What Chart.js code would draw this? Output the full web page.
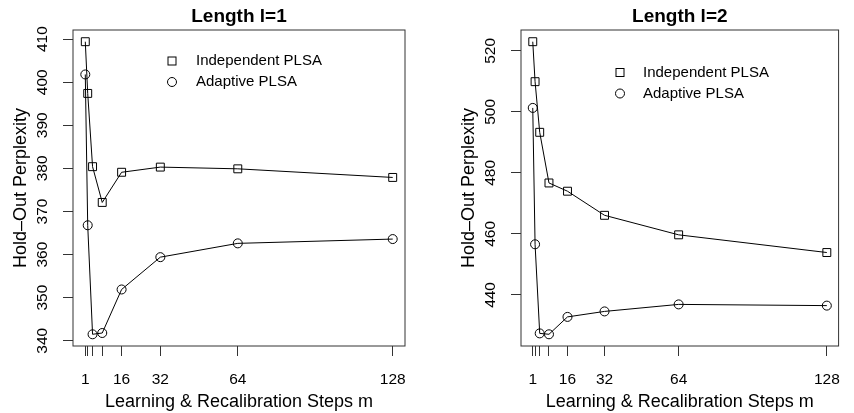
<!DOCTYPE html>
<html>
<head>
<meta charset="utf-8">
<script src="https://cdn.jsdelivr.net/npm/chart.js@4/dist/chart.umd.min.js"></script>
<style>
  html, body { margin: 0; padding: 0; background: #fff; }
  #wrap { position: relative; width: 854px; height: 413px; }
  canvas { position: absolute; top: 0; }
</style>
</head>
<body>
<div id="wrap">
  <canvas id="chart-l1" width="427" height="413" style="left:0"></canvas>
  <canvas id="chart-l2" width="427" height="413" style="left:427px"></canvas>
</div>
<script>
// Learning & recalibration steps m (x values of both panels).
var steps = [1, 2, 4, 8, 16, 32, 64, 128];
var xTicks = [1, 2, 4, 8, 16, 32, 64, 128];
var xLabeled = [1, 16, 32, 64, 128];

// Length l=1
var indepL1 = [409.4, 397.4, 380.4, 372.1, 379.1, 380.3, 379.9, 377.9];
var adaptL1 = [401.8, 366.8, 341.5, 341.8, 351.9, 359.4, 362.6, 363.6];
var yTicksL1 = [340, 350, 360, 370, 380, 390, 400, 410];

// Length l=2
var indepL2 = [523.0, 509.9, 493.3, 476.7, 474.0, 466.1, 459.7, 453.9];
var adaptL2 = [501.3, 456.6, 427.4, 427.1, 432.8, 434.6, 436.9, 436.5];
var yTicksL2 = [440, 460, 480, 500, 520];

var seriesNames = ["Independent PLSA", "Adaptive PLSA"];

var FONT = "'Liberation Sans', Arial, Helvetica, sans-serif";

function toPoints(ys) {
  return steps.map(function (x, i) {
    return { x: x, y: ys[i] };
  });
}

// R-like padding of 4% on each side of the data range.
function padRange(values) {
  var lo = Math.min.apply(null, values);
  var hi = Math.max.apply(null, values);
  var d = (hi - lo) * 0.04;
  return [lo - d, hi + d];
}

// Box, titles and legend drawn on top, R style.
var rDecor = {
  id: "rDecor",
  afterDraw: function (chart, args, opts) {
    var ctx = chart.ctx;
    var a = chart.chartArea;
    ctx.save();
    ctx.strokeStyle = "#333";
    ctx.lineWidth = 1;
    ctx.strokeRect(a.left, a.top, a.right - a.left, a.bottom - a.top);

    var cx = (a.left + a.right) / 2;
    ctx.fillStyle = "#000";
    ctx.textAlign = "center";
    ctx.textBaseline = "alphabetic";
    ctx.font = "bold 19px " + FONT;
    ctx.fillText(opts.title, cx, 22);

    ctx.font = "18px " + FONT;
    ctx.fillText("Learning & Recalibration Steps m", cx, 407);

    ctx.save();
    ctx.translate(a.left - 47, (a.top + a.bottom) / 2);
    ctx.rotate(-Math.PI / 2);
    ctx.fillText("Hold\u2013Out Perplexity", 0, 0);
    ctx.restore();

    // legend
    var lx = opts.legendX, ly = opts.legendY, gap = 21;
    ctx.strokeStyle = "#000";
    ctx.strokeRect(lx - 4, ly - 4, 8, 8);
    ctx.beginPath();
    ctx.arc(lx, ly + gap, 4.5, 0, Math.PI * 2);
    ctx.stroke();
    ctx.font = "15px " + FONT;
    ctx.textAlign = "left";
    ctx.textBaseline = "middle";
    ctx.fillText(seriesNames[0], opts.textX, ly);
    ctx.fillText(seriesNames[1], opts.textX, ly + gap);
    ctx.restore();
  }
};

function makeChart(id, indep, adapt, yTicks, cfg) {
  var yr = padRange(indep.concat(adapt));
  var xr = padRange(steps);
  var ctx = document.getElementById(id).getContext("2d");
  return new Chart(ctx, {
    type: "line",
    data: {
      datasets: [
        {
          label: seriesNames[0],
          data: toPoints(indep),
          borderColor: "#000",
          borderWidth: 1,
          pointStyle: "rect",
          pointRadius: 5.6,
          pointBorderColor: "#000",
          pointBackgroundColor: "rgba(0,0,0,0)",
          pointBorderWidth: 1,
          tension: 0,
        },
        {
          label: seriesNames[1],
          data: toPoints(adapt),
          borderColor: "#000",
          borderWidth: 1,
          pointStyle: "circle",
          pointRadius: 4.5,
          pointBorderColor: "#000",
          pointBackgroundColor: "rgba(0,0,0,0)",
          pointBorderWidth: 1,
          tension: 0,
        },
      ],
    },
    options: {
      responsive: false,
      animation: false,
      devicePixelRatio: 1,
      layout: {
        padding: { top: 30, right: 427 - cfg.boxRight, left: 0, bottom: 0 },
      },
      plugins: {
        legend: { display: false },
        tooltip: { enabled: false },
        rDecor: cfg,
      },
      scales: {
        x: {
          type: "linear",
          min: xr[0],
          max: xr[1],
          afterBuildTicks: function (scale) {
            scale.ticks = xTicks.map(function (v) {
              return { value: v };
            });
          },
          afterFit: function (scale) {
            scale.height = 413 - 346;
          },
          grid: {
            drawOnChartArea: false,
            drawTicks: true,
            tickLength: 10,
            color: "#333",
          },
          border: { display: false },
          ticks: {
            autoSkip: false,
            maxRotation: 0,
            padding: 14,
            color: "#000",
            font: { family: FONT, size: 15.5 },
            callback: function (v) {
              return xLabeled.indexOf(v) >= 0 ? String(v) : "";
            },
          },
        },
        y: {
          type: "linear",
          min: yr[0],
          max: yr[1],
          afterBuildTicks: function (scale) {
            scale.ticks = yTicks.map(function (v) {
              return { value: v };
            });
          },
          afterFit: function (scale) {
            scale.width = cfg.boxLeft;
          },
          grid: {
            drawOnChartArea: false,
            drawTicks: true,
            tickLength: 10,
            color: "#333",
          },
          border: { display: false },
          ticks: {
            minRotation: 90,
            maxRotation: 90,
            crossAlign: "center",
            padding: 7,
            color: "#000",
            font: { family: FONT, size: 15.5 },
          },
        },
      },
    },
    plugins: [rDecor],
  });
}

makeChart("chart-l1", indepL1, adaptL1, yTicksL1, {
  title: "Length l=1",
  boxLeft: 73,
  boxRight: 405,
  legendX: 172,
  legendY: 61,
  textX: 196,
});

makeChart("chart-l2", indepL2, adaptL2, yTicksL2, {
  title: "Length l=2",
  boxLeft: 94,
  boxRight: 426,
  legendX: 193,
  legendY: 72.5,
  textX: 216,
});
</script>
</body>
</html>
